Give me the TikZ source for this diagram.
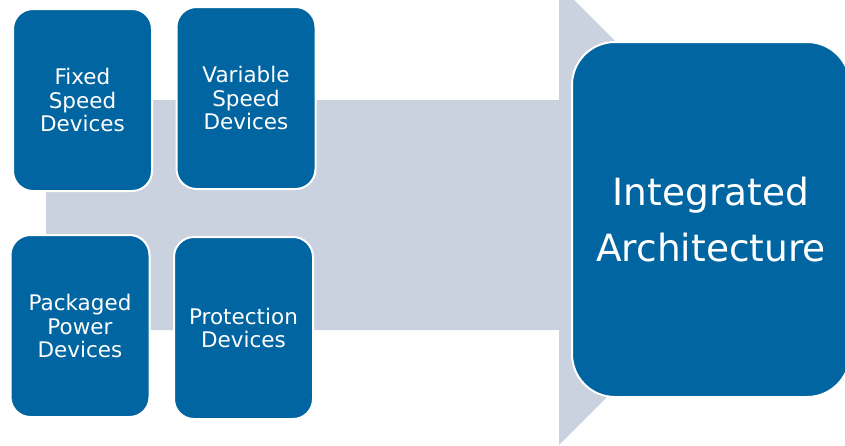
\documentclass[tikz,border=0pt]{standalone}
\usepackage{fontspec}
\setmainfont{DejaVu Sans}
\definecolor{boxblue}{HTML}{0065A1}
\definecolor{arrowgrey}{HTML}{CBD2DF}
\begin{document}
\begin{tikzpicture}[x=1pt,y=-1pt,
  devicebox/.style={draw=white, line width=2pt, fill=boxblue, text=white,
    rounded corners=20pt, align=center, minimum width=139pt, minimum height=182pt,
    inner sep=0pt, font=\fontsize{21.5}{23.7}\selectfont},
  bigbox/.style={draw=white, line width=2pt, fill=boxblue, text=white,
    rounded corners=43pt, align=center, minimum width=278pt, minimum height=355pt,
    inner sep=0pt, font=\fontsize{37.5}{56.7}\selectfont}]
\useasboundingbox (0,0) rectangle (845,445);
\clip (0,0) rectangle (845,445);
% broad background arrow
\fill[arrowgrey] (46,100) -- (559,100) -- (559,-15) -- (789,215)
  -- (559,445) -- (559,330) -- (46,330) -- cycle;
% device groups
\node[devicebox] (fixed)      at (82.5,100) {Fixed\\Speed\\Devices};
\node[devicebox] (variable)   at (246,98)   {Variable\\Speed\\Devices};
\node[devicebox] (packaged)   at (80,326)   {Packaged\\Power\\Devices};
\node[devicebox] (protection) at (243.5,328) {Protection\\Devices};
% result
\node[bigbox] (integrated) at (711,219.5) {Integrated\\Architecture};
\end{tikzpicture}
\end{document}
